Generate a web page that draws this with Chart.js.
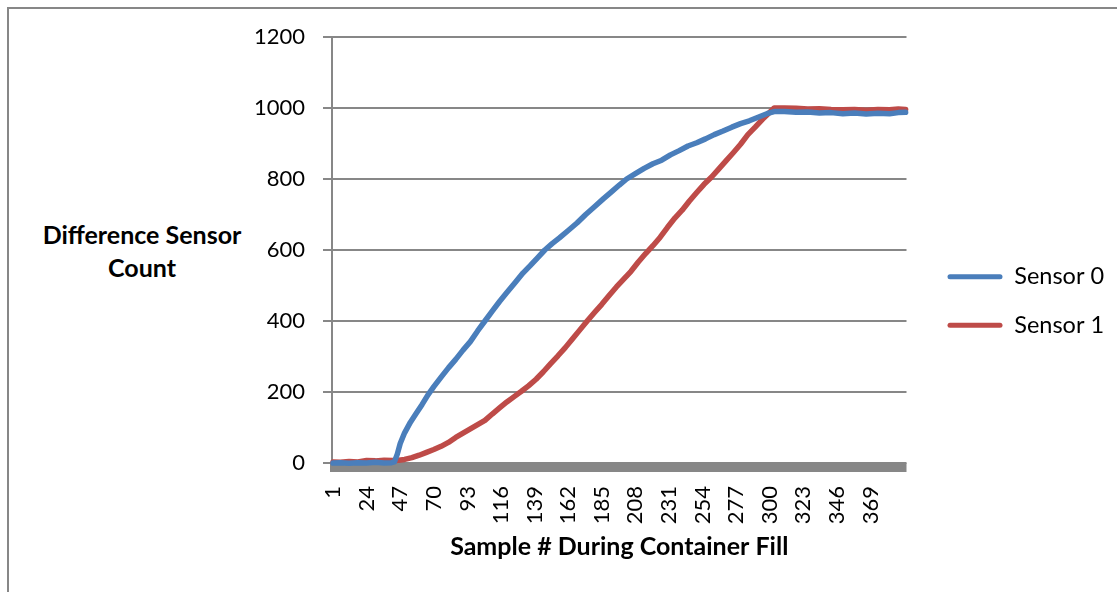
<!DOCTYPE html>
<html>
<head>
<meta charset="utf-8">
<script src="https://cdn.jsdelivr.net/npm/chart.js@4"></script>
<style>
  body { margin: 0; background: #fff; }
  #frame {
    position: absolute; left: 7px; top: 7px; width: 1200px; height: 700px;
    border-left: 2px solid #878787; border-top: 2px solid #878787;
  }
  #ytitle {
    position: absolute; left: -8px; top: 218px; width: 300px;
    text-align: center; font: bold 25px Lato, sans-serif; line-height: 33px; color: #000;
  }
  #chart { position: absolute; left: 0; top: 0; }
</style>
</head>
<body>
<div id="frame"></div>
<div id="ytitle">Difference Sensor<br>Count</div>
<canvas id="chart" width="1117" height="592"></canvas>
<script>
// x tick labels (sample numbers shown on the axis)
const sampleTicks = [1, 24, 47, 70, 93, 116, 139, 162, 185, 208, 231, 254, 277, 300, 323, 346, 369];

// Sensor 0
const sensor0Samples = [1, 6, 12, 18, 24, 30, 36, 41, 43, 45, 47, 50, 54, 58, 62, 66, 70, 75, 80, 85, 90, 95, 100, 105, 110, 115, 120, 126, 131, 136, 141, 146, 151, 156, 162, 168, 174, 180, 186, 192, 197, 202, 208, 214, 220, 226, 232, 238, 244, 250, 256, 262, 268, 274, 280, 286, 292, 298, 303, 310, 318, 326, 334, 342, 350, 358, 366, 374, 382, 388, 393];
const sensor0Values = [0, 1, -1, 1, 0, 2, 0, 1, 3, 25, 55, 85, 115, 140, 165, 192, 215, 242, 268, 292, 318, 342, 372, 400, 428, 455, 480, 510, 535, 556, 578, 600, 618, 634, 655, 676, 700, 722, 744, 765, 783, 800, 815, 830, 843, 853, 868, 880, 893, 902, 913, 925, 935, 946, 956, 964, 974, 984, 990, 990, 988, 989, 986, 987, 984, 986, 983, 985, 984, 987, 988];

// Sensor 1
const sensor1Samples = [1, 6, 12, 18, 24, 30, 36, 42, 46, 50, 55, 60, 65, 70, 75, 80, 85, 90, 95, 100, 105, 110, 115, 120, 125, 130, 135, 140, 145, 150, 155, 160, 165, 170, 175, 180, 185, 190, 195, 200, 205, 210, 215, 220, 225, 230, 235, 240, 245, 250, 255, 260, 265, 270, 275, 280, 285, 290, 295, 300, 303, 310, 318, 326, 334, 342, 350, 358, 366, 374, 382, 388, 393];
const sensor1Values = [3, 2, 4, 3, 7, 6, 8, 7, 8, 10, 15, 22, 30, 38, 47, 58, 72, 84, 96, 108, 120, 138, 155, 172, 187, 202, 218, 236, 257, 280, 302, 325, 350, 375, 400, 424, 447, 472, 496, 518, 540, 566, 590, 612, 636, 664, 690, 712, 738, 762, 785, 805, 828, 851, 874, 898, 925, 946, 968, 988, 1000, 1000, 999, 997, 998, 996, 995, 996, 994, 996, 995, 997, 996];

const seriesNames = ["Sensor 0", "Sensor 1"];
const seriesColors = ["#4A7EBB", "#BE4B48"];

const font = "Lato";

// thick grey base line under the zero gridline
const baseBand = {
  id: "baseBand",
  beforeDatasetsDraw(chart) {
    const { ctx, chartArea, scales } = chart;
    const y0 = scales.y.getPixelForValue(0);
    ctx.save();
    ctx.fillStyle = "#878787";
    ctx.fillRect(chartArea.left - 2, y0, chartArea.right - chartArea.left + 2, 9);
    ctx.restore();
  },
};

function toPoints(xs, ys) {
  return xs.map((x, i) => ({ x: x, y: ys[i] }));
}

new Chart(document.getElementById("chart"), {
  type: "line",
  data: {
    datasets: [
      {
        label: seriesNames[0],
        data: toPoints(sensor0Samples, sensor0Values),
        borderColor: seriesColors[0],
        backgroundColor: seriesColors[0],
      },
      {
        label: seriesNames[1],
        data: toPoints(sensor1Samples, sensor1Values),
        borderColor: seriesColors[1],
        backgroundColor: seriesColors[1],
      },
    ],
  },
  options: {
    responsive: false,
    animation: false,
    clip: false,
    elements: {
      line: { borderWidth: 5.5, tension: 0, borderCapStyle: "round", borderJoinStyle: "round" },
      point: { radius: 0, hoverRadius: 0 },
    },
    layout: { padding: { left: 0, top: 37, right: 10, bottom: 27 } },
    plugins: {
      tooltip: { enabled: false },
      legend: {
        position: "right",
        align: "center",
        labels: {
          boxWidth: 55,
          boxHeight: 5,
          padding: 25,
          color: "#000",
          font: { family: font, size: 23.5 },
          generateLabels: (chart) =>
            Chart.defaults.plugins.legend.labels.generateLabels(chart).map((item) => ({
              ...item,
              lineWidth: 0,
              borderRadius: 2.5,
            })),
        },
      },
    },
    scales: {
      x: {
        type: "linear",
        min: 0.3,
        max: 393.6,
        afterBuildTicks: (scale) => {
          scale.ticks = sampleTicks.map((v) => ({ value: v }));
        },
        afterFit: (scale) => {
          scale.height = 102;
        },
        grid: { display: false },
        border: { display: false },
        ticks: {
          autoSkip: false,
          minRotation: 90,
          maxRotation: 90,
          padding: 15,
          color: "#000",
          font: { family: font, size: 22 },
          callback: (v) => String(v),
        },
        title: {
          display: true,
          text: "Sample # During Container Fill",
          color: "#000",
          font: { family: font, size: 25, weight: "bold" },
          padding: { top: 0, bottom: 3 },
        },
      },
      y: {
        min: 0,
        max: 1200,
        afterFit: (scale) => {
          scale.width = 332;
        },
        grid: { color: "#878787", lineWidth: 2, tickLength: 9 },
        border: { color: "#878787", width: 2 },
        ticks: {
          stepSize: 200,
          padding: 18,
          color: "#000",
          font: { family: font, size: 22 },
          callback: (v) => String(v),
        },
      },
      y2: {
        position: "right",
        afterFit: (scale) => {
          scale.width = 16;
        },
        grid: { display: false },
        border: { display: false },
        ticks: { display: false },
      },
    },
  },
  plugins: [baseBand],
});
</script>
</body>
</html>
